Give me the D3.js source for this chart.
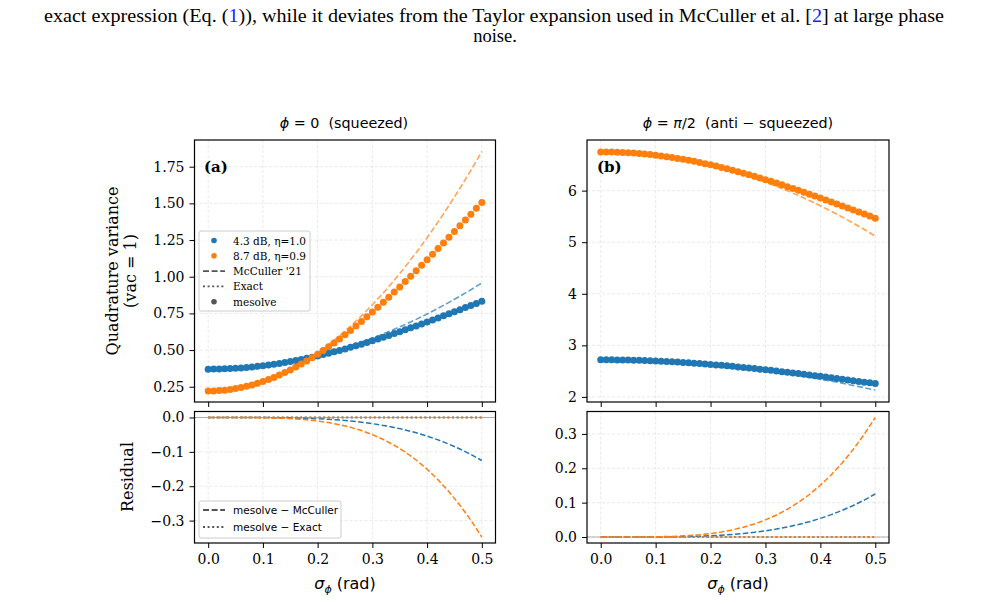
<!DOCTYPE html>
<html>
<head>
<meta charset="utf-8">
<script src="https://d3js.org/d3.v7.min.js"></script>
<style>
  body { margin: 0; background: #fff; }
</style>
</head>
<body>
<div id="chart"></div>
<script>
// phase-noise grid (rad): mesolve points and the smooth curves
const sigma = [0, 0.01, 0.02, 0.03, 0.04, 0.05, 0.06, 0.07, 0.08, 0.09, 0.10,
  0.11, 0.12, 0.13, 0.14, 0.15, 0.16, 0.17, 0.18, 0.19, 0.20, 0.21, 0.22, 0.23, 0.24, 0.25,
  0.26, 0.27, 0.28, 0.29, 0.30, 0.31, 0.32, 0.33, 0.34, 0.35, 0.36, 0.37, 0.38, 0.39, 0.40,
  0.41, 0.42, 0.43, 0.44, 0.45, 0.46, 0.47, 0.48, 0.49, 0.50];
const sigmaCurve = [0, 0.02, 0.04, 0.06, 0.08, 0.10, 0.12, 0.14, 0.16, 0.18, 0.20, 0.22, 0.24,
  0.26, 0.28, 0.30, 0.32, 0.34, 0.36, 0.38, 0.40, 0.42, 0.44, 0.46, 0.48, 0.50];

const seriesNames = ["4.3 dB, \u03b7=1.0", "8.7 dB, \u03b7=0.9"];
const colors = ["#1f77b4", "#ff7f0e"];

// (a) phi = 0, mesolve
const sqzBlue = [0.3700, 0.3702, 0.3709, 0.3721, 0.3738, 0.3759, 0.3784, 0.3815, 0.3849, 0.3889, 0.3933,
  0.3981, 0.4034, 0.4091, 0.4152, 0.4217, 0.4286, 0.4360, 0.4437, 0.4518, 0.4603, 0.4692, 0.4784, 0.4880, 0.4978, 0.5081,
  0.5186, 0.5294, 0.5405, 0.5519, 0.5636, 0.5755, 0.5876, 0.6000, 0.6126, 0.6254, 0.6383, 0.6515, 0.6648, 0.6783, 0.6918,
  0.7055, 0.7193, 0.7332, 0.7472, 0.7613, 0.7754, 0.7896, 0.8038, 0.8181, 0.8323];
const sqzOrange = [0.2210, 0.2217, 0.2236, 0.2269, 0.2314, 0.2373, 0.2444, 0.2528, 0.2625, 0.2735, 0.2857,
  0.2991, 0.3137, 0.3295, 0.3465, 0.3647, 0.3840, 0.4044, 0.4259, 0.4484, 0.4720, 0.4966, 0.5222, 0.5488, 0.5763, 0.6046,
  0.6339, 0.6640, 0.6948, 0.7265, 0.7588, 0.7919, 0.8257, 0.8600, 0.8950, 0.9306, 0.9666, 1.0032, 1.0403, 1.0777, 1.1151,
  1.1532, 1.1916, 1.2303, 1.2692, 1.3083, 1.3476, 1.3870, 1.4265, 1.4661, 1.5057];
// (a) McCuller '21 Taylor expansion
const sqzMccBlue = [0.3700, 0.3709, 0.3738, 0.3785, 0.3850, 0.3935, 0.4038, 0.4161, 0.4302, 0.4461, 0.4640, 0.4837, 0.5054,
  0.5289, 0.5542, 0.5815, 0.6106, 0.6417, 0.6746, 0.7093, 0.7460, 0.7845, 0.8250, 0.8673, 0.9114, 0.9575];
const sqzMccOrange = [0.2210, 0.2236, 0.2314, 0.2445, 0.2628, 0.2863, 0.3150, 0.3490, 0.3882, 0.4326, 0.4822, 0.5371, 0.5971,
  0.6624, 0.7330, 0.8087, 0.8897, 0.9759, 1.0673, 1.1639, 1.2658, 1.3729, 1.4852, 1.6028, 1.7255, 1.8535];

// (b) phi = pi/2, mesolve
const antiBlue = [2.7200, 2.7198, 2.7191, 2.7179, 2.7162, 2.7141, 2.7116, 2.7085, 2.7051, 2.7011, 2.6967,
  2.6919, 2.6866, 2.6809, 2.6748, 2.6683, 2.6614, 2.6540, 2.6463, 2.6382, 2.6297, 2.6208, 2.6116, 2.6020, 2.5922, 2.5819,
  2.5714, 2.5606, 2.5495, 2.5381, 2.5264, 2.5145, 2.5024, 2.4900, 2.4774, 2.4646, 2.4517, 2.4385, 2.4252, 2.4117, 2.3982,
  2.3845, 2.3707, 2.3568, 2.3428, 2.3287, 2.3146, 2.3004, 2.2862, 2.2719, 2.2577];
const antiOrange = [6.7510, 6.7503, 6.7484, 6.7451, 6.7406, 6.7347, 6.7276, 6.7192, 6.7095, 6.6985, 6.6864,
  6.6729, 6.6583, 6.6425, 6.6255, 6.6073, 6.5880, 6.5676, 6.5461, 6.5236, 6.5000, 6.4754, 6.4498, 6.4232, 6.3957, 6.3674,
  6.3381, 6.3080, 6.2772, 6.2455, 6.2132, 6.1801, 6.1463, 6.1120, 6.0770, 6.0414, 6.0054, 5.9688, 5.9317, 5.8943, 5.8569,
  5.8188, 5.7804, 5.7417, 5.7028, 5.6637, 5.6244, 5.5850, 5.5455, 5.5059, 5.4663];
const antiMccBlue = [2.7200, 2.7191, 2.7162, 2.7115, 2.7050, 2.6965, 2.6862, 2.6739, 2.6598, 2.6439, 2.6260, 2.6063, 2.5846,
  2.5611, 2.5358, 2.5085, 2.4794, 2.4483, 2.4154, 2.3807, 2.3440, 2.3055, 2.2650, 2.2227, 2.1786, 2.1325];
const antiMccOrange = [6.7510, 6.7484, 6.7406, 6.7275, 6.7092, 6.6857, 6.6570, 6.6230, 6.5838, 6.5394, 6.4898, 6.4349, 6.3749,
  6.3096, 6.2390, 6.1633, 6.0823, 5.9961, 5.9047, 5.8081, 5.7062, 5.5991, 5.4868, 5.3692, 5.2465, 5.1185];

// residuals: mesolve - McCuller, mesolve - Exact
const resSqzBlue = [0, 0, 0, -0.00003, -0.0001, -0.00023, -0.00048, -0.00089, -0.00151, -0.00242, -0.00366, -0.00533, -0.00751,
  -0.01027, -0.01372, -0.01794, -0.02304, -0.0291, -0.03622, -0.0445, -0.05422, -0.06523, -0.07773, -0.09182, -0.1076, -0.12517];
const resSqzOrange = [0, 0, -0.00002, -0.00008, -0.00027, -0.00065, -0.00134, -0.00247, -0.00421, -0.00671, -0.01017, -0.01482, -0.02087,
  -0.02854, -0.03812, -0.04986, -0.06401, -0.08085, -0.10064, -0.12366, -0.15067, -0.18127, -0.21599, -0.25515, -0.299, -0.34782];
const resAntiBlue = [0, 0, 0, 0.00003, 0.0001, 0.00023, 0.00048, 0.00089, 0.00151, 0.00242, 0.00366, 0.00533, 0.00751,
  0.01027, 0.01372, 0.01794, 0.02304, 0.0291, 0.03622, 0.0445, 0.05422, 0.06523, 0.07773, 0.09182, 0.1076, 0.12517];
const resAntiOrange = [0, 0, 0.00002, 0.00008, 0.00027, 0.00065, 0.00134, 0.00247, 0.00421, 0.00671, 0.01017, 0.01482, 0.02087,
  0.02854, 0.03812, 0.04986, 0.06401, 0.08085, 0.10064, 0.12366, 0.15067, 0.18127, 0.21599, 0.25515, 0.299, 0.34782];
const resExact = [0, 0, 0, 0, 0, 0, 0, 0, 0, 0, 0, 0, 0, 0, 0, 0, 0, 0, 0, 0, 0, 0, 0, 0, 0, 0];

const xTicks = [0, 0.1, 0.2, 0.3, 0.4, 0.5];
const yTicksSqz = [0.25, 0.5, 0.75, 1.0, 1.25, 1.5, 1.75];
const yTicksAnti = [2, 3, 4, 5, 6];
const yTicksResSqz = [-0.3, -0.2, -0.1, 0];
const yTicksResAnti = [0, 0.1, 0.2, 0.3];

const serif = "'DejaVu Serif', serif";
const sans = "'DejaVu Sans', sans-serif";

const svg = d3.select("#chart").append("svg")
    .attr("width", 991)
    .attr("height", 604);

// caption text from the paper above the figure
const cap = svg.append("text")
    .attr("x", 44).attr("y", 22)
    .attr("font-family", "'Liberation Serif', serif")
    .attr("font-size", 18.5)
    .attr("textLength", 900)
    .attr("lengthAdjust", "spacingAndGlyphs");
cap.append("tspan").text("exact expression (Eq. (");
cap.append("tspan").attr("fill", "#1a1aff").text("1");
cap.append("tspan").text(")), while it deviates from the Taylor expansion used in McCuller et al. [");
cap.append("tspan").attr("fill", "#1a1aff").text("2");
cap.append("tspan").text("] at large phase");
svg.append("text")
    .attr("x", 495).attr("y", 42)
    .attr("text-anchor", "middle")
    .attr("font-family", "'Liberation Serif', serif")
    .attr("font-size", 18.5)
    .text("noise.");

const cols = [[194.5, 495.5], [587, 889]];
const rowTop = [402, 140], rowBot = [543, 411.5];

const minus = v => v < 0 ? "\u2212" + Math.abs(v).toFixed(1) : v.toFixed(1);

function makePanel(xr, yr, domain, yTicks, yFmt, xLabels) {
  const x = d3.scaleLinear().domain([-0.025, 0.525]).range(xr);
  const y = d3.scaleLinear().domain(domain).range(yr);

  // dashed grid
  const grid = svg.append("g")
      .attr("stroke", "#b0b0b0")
      .attr("stroke-opacity", 0.35)
      .attr("stroke-width", 0.8)
      .attr("stroke-dasharray", "3,2");
  grid.selectAll(".gx").data(xTicks).enter().append("line")
      .attr("x1", d => x(d)).attr("x2", d => x(d))
      .attr("y1", yr[1]).attr("y2", yr[0]);
  grid.selectAll(".gy").data(yTicks).enter().append("line")
      .attr("x1", xr[0]).attr("x2", xr[1])
      .attr("y1", d => y(d)).attr("y2", d => y(d));

  const ax = svg.append("g")
      .attr("transform", "translate(0," + yr[0] + ")")
      .call(d3.axisBottom(x).tickValues(xTicks).tickSize(5).tickPadding(6)
          .tickFormat(xLabels ? d3.format(".1f") : () => ""));
  const ay = svg.append("g")
      .attr("transform", "translate(" + xr[0] + ",0)")
      .call(d3.axisLeft(y).tickValues(yTicks).tickSize(5).tickPadding(5).tickFormat(yFmt));
  [ax, ay].forEach(a => {
    a.select(".domain").remove();
    a.attr("font-family", serif).attr("font-size", 14);
    a.selectAll("text").attr("fill", "#000");
    a.selectAll("line").attr("stroke", "#000").attr("stroke-width", 1);
  });

  return { x, y, xr, yr };
}

function frame(p) {
  svg.append("rect")
      .attr("x", p.xr[0]).attr("y", p.yr[1])
      .attr("width", p.xr[1] - p.xr[0]).attr("height", p.yr[0] - p.yr[1])
      .attr("fill", "none").attr("stroke", "#000").attr("stroke-width", 1.2);
}

function curve(p, xs, ys, color, dash, opacity, width) {
  svg.append("path")
      .datum(ys)
      .attr("d", d3.line().x((d, i) => p.x(xs[i])).y(d => p.y(d)))
      .attr("fill", "none")
      .attr("stroke", color)
      .attr("stroke-width", width || 1.5)
      .attr("stroke-opacity", opacity)
      .attr("stroke-dasharray", dash);
}

function dots(p, ys, color) {
  svg.append("g").selectAll("circle")
      .data(ys)
    .enter().append("circle")
      .attr("cx", (d, i) => p.x(sigma[i]))
      .attr("cy", d => p.y(d))
      .attr("r", 3.5)
      .attr("fill", color);
}

// top row: variances
const pa = makePanel(cols[0], rowTop, [0.146, 1.932], yTicksSqz, d3.format(".2f"), false);
const pb = makePanel(cols[1], rowTop, [1.901, 6.982], yTicksAnti, d3.format("d"), false);
[[pa, [sqzBlue, sqzOrange], [sqzMccBlue, sqzMccOrange]],
 [pb, [antiBlue, antiOrange], [antiMccBlue, antiMccOrange]]].forEach(([p, meso, mcc]) => {
  colors.forEach((c, k) => {
    curve(p, sigmaCurve, mcc[k], c, "6,2.6", 0.7, 1.6);
    dots(p, meso[k], c);
  });
  frame(p);
});

// bottom row: residuals
const ra = makePanel(cols[0], rowBot, [-0.3652, 0.0174], yTicksResSqz, minus, true);
const rb = makePanel(cols[1], rowBot, [-0.0174, 0.3652], yTicksResAnti, d3.format(".1f"), true);
[[ra, [resSqzBlue, resSqzOrange]], [rb, [resAntiBlue, resAntiOrange]]].forEach(([p, res]) => {
  svg.append("line")
      .attr("x1", p.xr[0]).attr("x2", p.xr[1])
      .attr("y1", p.y(0)).attr("y2", p.y(0))
      .attr("stroke", "#808080").attr("stroke-opacity", 0.6).attr("stroke-width", 1.2);
  colors.forEach((c, k) => {
    curve(p, sigmaCurve, res[k], c, "5.5,2.4", 1);
    curve(p, sigmaCurve, resExact, c, "2,2.6", 0.8, 2);
  });
  frame(p);
});

// panel titles
svg.append("text").attr("x", 344).attr("y", 128).attr("text-anchor", "middle")
    .attr("font-family", sans).attr("font-size", 14.3)
    .html("<tspan font-style='italic'>\u03d5</tspan> = 0  (squeezed)")
    .attr("xml:space", "preserve");
svg.append("text").attr("x", 738).attr("y", 128).attr("text-anchor", "middle")
    .attr("font-family", sans).attr("font-size", 14.3)
    .html("<tspan font-style='italic'>\u03d5</tspan> = <tspan font-style='italic'>\u03c0</tspan>/2  (anti \u2212 squeezed)")
    .attr("xml:space", "preserve");

// panel letters
svg.append("text").attr("x", 204).attr("y", 172).attr("font-family", serif)
    .attr("font-weight", "bold").attr("font-size", 15).text("(a)");
svg.append("text").attr("x", 597).attr("y", 172).attr("font-family", serif)
    .attr("font-weight", "bold").attr("font-size", 15).text("(b)");

// axis labels
const yl = svg.append("text")
    .attr("transform", "translate(118,271) rotate(-90)")
    .attr("text-anchor", "middle")
    .attr("font-family", serif).attr("font-size", 16);
yl.append("tspan").attr("x", 0).attr("dy", 0).text("Quadrature variance");
yl.append("tspan").attr("x", 0).attr("dy", 18).text("(vac = 1)");
svg.append("text")
    .attr("transform", "translate(133,477) rotate(-90)")
    .attr("text-anchor", "middle")
    .attr("font-family", serif).attr("font-size", 16)
    .text("Residual");
[345, 738].forEach(cx => {
  const t = svg.append("text").attr("x", cx).attr("y", 589).attr("text-anchor", "middle")
      .attr("font-family", sans).attr("font-size", 16);
  t.append("tspan").attr("font-style", "italic").text("\u03c3");
  t.append("tspan").attr("font-style", "italic").attr("font-size", 11).attr("dy", 4).text("\u03d5");
  t.append("tspan").attr("dy", -4).text(" (rad)");
});

// legend, top-left panel
const lg = svg.append("g").attr("transform", "translate(199,231)");
lg.append("rect").attr("width", 111).attr("height", 80).attr("rx", 2)
    .attr("fill", "#fff").attr("fill-opacity", 0.8).attr("stroke", "#cccccc");
const legItems = [
  { label: seriesNames[0], kind: "dot", color: colors[0] },
  { label: seriesNames[1], kind: "dot", color: colors[1] },
  { label: "McCuller '21", kind: "dash", color: "#555" },
  { label: "Exact", kind: "dot-line", color: "#555" },
  { label: "mesolve", kind: "dot", color: "#555" }
];
legItems.forEach((it, i) => {
  const yy = 9.5 + i * 15.3;
  if (it.kind === "dot") {
    lg.append("circle").attr("cx", 15).attr("cy", yy).attr("r", 2.8).attr("fill", it.color);
  } else {
    lg.append("line").attr("x1", 4).attr("x2", 26).attr("y1", yy).attr("y2", yy)
        .attr("stroke", it.color).attr("stroke-width", 1.8)
        .attr("stroke-dasharray", it.kind === "dash" ? "6,2.6" : "2,2.6");
  }
  lg.append("text").attr("x", 34).attr("y", yy + 4)
      .attr("font-family", serif).attr("font-size", 10.5).text(it.label);
});

// legend, residual panel
const lr = svg.append("g").attr("transform", "translate(199,501)");
lr.append("rect").attr("width", 142).attr("height", 37).attr("rx", 2)
    .attr("fill", "#fff").attr("fill-opacity", 0.8).attr("stroke", "#cccccc");
[["mesolve \u2212 McCuller", "6,2.6"], ["mesolve \u2212 Exact", "2,2.6"]].forEach(([label, dash], i) => {
  const yy = 9 + i * 17;
  lr.append("line").attr("x1", 4).attr("x2", 26).attr("y1", yy).attr("y2", yy)
      .attr("stroke", "#555").attr("stroke-width", 1.8).attr("stroke-dasharray", dash);
  lr.append("text").attr("x", 34).attr("y", yy + 4)
      .attr("font-family", sans).attr("font-size", 10.5).text(label);
});
</script>
</body>
</html>
